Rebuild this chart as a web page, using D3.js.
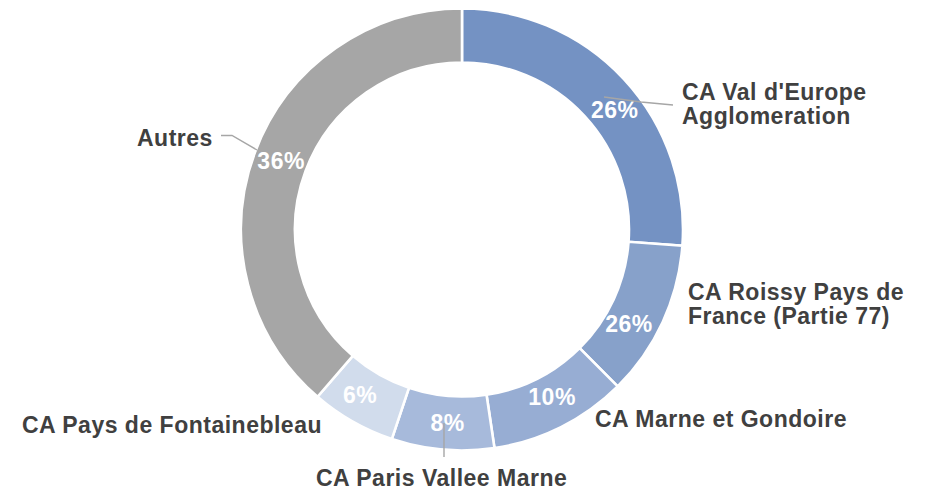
<!DOCTYPE html>
<html>
<head>
<meta charset="utf-8">
<script src="https://cdn.jsdelivr.net/npm/d3@7"></script>
<style>
  html, body { margin: 0; padding: 0; background: #fff; }
  svg { display: block; }
  text { font-family: "Liberation Sans", Arial, sans-serif; font-weight: bold; }
</style>
</head>
<body>
<svg id="chart" width="928" height="489"></svg>
<script>
// ---- data ----
const categories = [
  "CA Val d'Europe Agglomeration",
  "CA Roissy Pays de France (Partie 77)",
  "CA Marne et Gondoire",
  "CA Paris Vallee Marne",
  "CA Pays de Fontainebleau",
  "Autres"
];
const values = [26.2, 11.4, 10.1, 7.5, 6.2, 38.7];
const percentLabels = ["26%", "26%", "10%", "8%", "6%", "36%"];
const nameLines = [
  ["CA Val d'Europe", "Agglomeration"],
  ["CA Roissy Pays de", "France (Partie 77)"],
  ["CA Marne et Gondoire"],
  ["CA Paris Vallee Marne"],
  ["CA Pays de Fontainebleau"],
  ["Autres"]
];
const colors = ["#7492c3", "#87a1ca", "#97add3", "#a7badb", "#d1dcec", "#a6a6a6"];

// ---- layout ----
const cx = 462, cy = 229.5;
const outerR = 221, innerR = 167;
// percent label placement: angle offset (deg) from slice middle, radius
const pctAngleOffset = [4.8, 4.8, -1.7, -0.8, 2.0, 0.4];
const pctRadius = [194, 192, 190, 194, 194, 193.5];
// category label anchors (left x, first baseline)
const nameAnchor = [[682, 99.5], [688, 299.5], [595, 427.3], [316, 485.5], [22, 433.3], [137, 146]];
const lineHeight = 24;
const fontSize = 23, letterSpacing = 0.5;
// leader lines
const leaders = [
  [[604, 97], [641, 102], [673, 105]],
  null, null,
  [[444, 423], [444, 457]],
  null,
  [[221, 135.5], [232, 135.5], [257, 150]]
];

const svg = d3.select("#chart");
const g = svg.append("g").attr("transform", `translate(${cx},${cy})`);

const pie = d3.pie().sort(null).value(d => d);
const arcs = pie(values);
const arc = d3.arc().innerRadius(innerR).outerRadius(outerR);

g.selectAll("path.slice")
  .data(arcs)
  .join("path")
  .attr("class", "slice")
  .attr("d", arc)
  .attr("fill", (d, i) => colors[i])
  .attr("stroke", "#fff")
  .attr("stroke-width", 2.6)
  .attr("stroke-linejoin", "miter");

// leader lines
const line = d3.line();
svg.selectAll("path.leader")
  .data(leaders.filter(d => d))
  .join("path")
  .attr("class", "leader")
  .attr("d", d => line(d))
  .attr("fill", "none")
  .attr("stroke", "#a6a6a6")
  .attr("stroke-width", 1.4);

// percent labels
g.selectAll("text.pct")
  .data(arcs)
  .join("text")
  .attr("class", "pct")
  .attr("x", (d, i) => {
    const a = (d.startAngle + d.endAngle) / 2 + pctAngleOffset[i] * Math.PI / 180;
    return pctRadius[i] * Math.sin(a);
  })
  .attr("y", (d, i) => {
    const a = (d.startAngle + d.endAngle) / 2 + pctAngleOffset[i] * Math.PI / 180;
    return -pctRadius[i] * Math.cos(a);
  })
  .attr("dy", "0.35em")
  .attr("text-anchor", "middle")
  .attr("fill", "#ffffff")
  .attr("font-size", fontSize)
  .attr("letter-spacing", letterSpacing)
  .text((d, i) => percentLabels[i]);

// category labels
categories.forEach((c, i) => {
  const t = svg.append("text")
    .attr("class", "name")
    .attr("x", nameAnchor[i][0])
    .attr("y", nameAnchor[i][1])
    .attr("fill", "#404040")
    .attr("font-size", fontSize)
    .attr("letter-spacing", letterSpacing);
  nameLines[i].forEach((ln, j) => {
    t.append("tspan")
      .attr("x", nameAnchor[i][0])
      .attr("y", nameAnchor[i][1] + j * lineHeight)
      .text(ln);
  });
});
</script>
</body>
</html>
